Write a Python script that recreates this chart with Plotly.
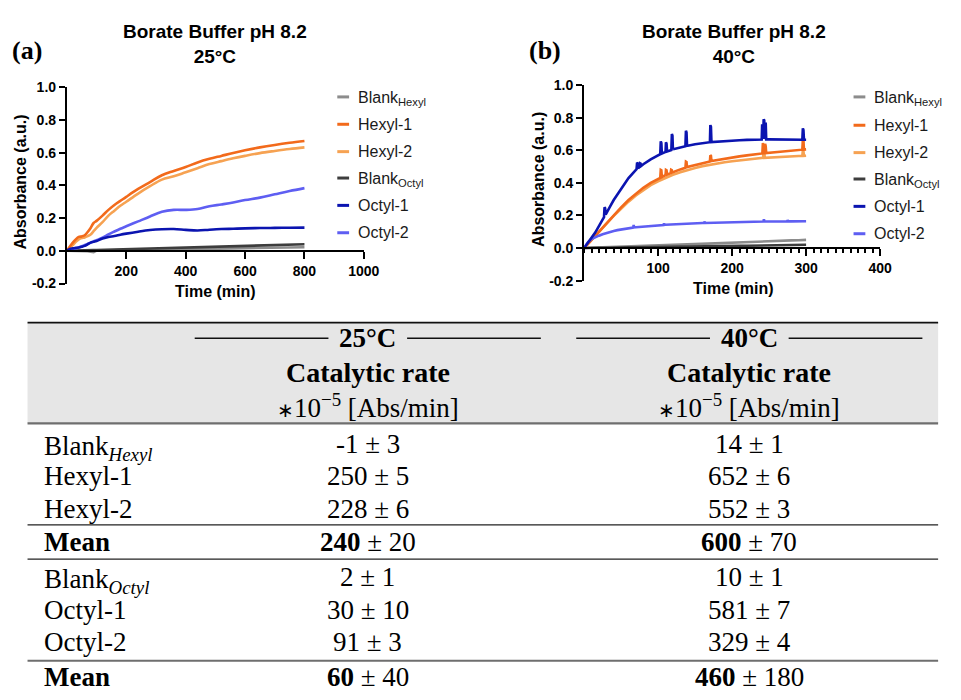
import plotly.graph_objects as go

W, H = 961, 700
SANS = "Liberation Sans, Arial, sans-serif"
SERIF = "Liberation Serif, Times New Roman, serif"


def px(x):
    return x / W


def py(y):
    return 1 - y / H


# ---------------- series styling ----------------
SERIES = ["Blank<sub>Hexyl</sub>", "Hexyl-1", "Hexyl-2",
          "Blank<sub>Octyl</sub>", "Octyl-1", "Octyl-2"]
COLORS = ["#8c8c8c", "#f26a1b", "#f6a252", "#3d3d3d", "#0b14b0", "#5e5ef2"]

# ---------------- 25 °C kinetics (absorbance vs time, min) ----------------
T25 = [0, 10, 20, 30, 40, 50, 60, 70, 80, 90, 100, 120, 140, 160, 180, 200,
       240, 280, 320, 360, 400, 440, 480, 520, 560, 600, 650, 700, 750, 800]
BLANK_HEX_25 = [0, 0, 0.001, 0.001, 0.001, 0, 0, -0.002, -0.006, -0.008, 0.001,
                0.002, 0.003, 0.004, 0.004, 0.005, 0.006, 0.007, 0.008, 0.009,
                0.011, 0.012, 0.013, 0.014, 0.015, 0.016, 0.018, 0.019, 0.02, 0.022]
HEX1_25 = [0, 0.027, 0.05, 0.07, 0.085, 0.088, 0.095, 0.115, 0.14, 0.17, 0.183,
           0.215, 0.25, 0.28, 0.305, 0.33, 0.378, 0.42, 0.462, 0.488, 0.512,
           0.54, 0.562, 0.58, 0.598, 0.614, 0.632, 0.647, 0.66, 0.671]
HEX2_25 = [0, 0.018, 0.035, 0.055, 0.07, 0.078, 0.082, 0.09, 0.1, 0.12, 0.14,
           0.175, 0.215, 0.245, 0.275, 0.30, 0.35, 0.395, 0.435, 0.455, 0.48,
           0.505, 0.53, 0.548, 0.565, 0.58, 0.597, 0.61, 0.622, 0.632]
BLANK_OCT_25 = [0, 0.001, 0.001, 0.002, 0.002, 0.003, 0.003, 0.004, 0.004, 0.005,
                0.005, 0.006, 0.007, 0.008, 0.009, 0.01, 0.012, 0.015, 0.017,
                0.019, 0.021, 0.023, 0.025, 0.027, 0.029, 0.031, 0.033, 0.035,
                0.038, 0.04]
OCT1_25 = [0, 0.012, 0.015, 0.018, 0.02, 0.025, 0.03, 0.04, 0.05, 0.055, 0.06,
           0.075, 0.085, 0.09, 0.098, 0.105, 0.117, 0.127, 0.132, 0.133, 0.128,
           0.124, 0.129, 0.133, 0.135, 0.137, 0.139, 0.14, 0.141, 0.142]
OCT2_25 = [0, 0.005, 0.01, 0.015, 0.02, 0.028, 0.035, 0.042, 0.05, 0.058, 0.065,
           0.08, 0.1, 0.118, 0.135, 0.15, 0.18, 0.21, 0.238, 0.25, 0.25, 0.255,
           0.272, 0.283, 0.295, 0.31, 0.325, 0.345, 0.365, 0.383]

# ---------------- 40 °C kinetics ----------------
T40 = [0, 5, 10, 15, 20, 25, 30, 35, 40, 45, 50, 60, 70, 80, 90, 100, 110, 120,
       130, 140, 150, 160, 170, 180, 190, 200, 210, 220, 230, 240, 250, 260,
       270, 280, 290, 300]
BLANK_HEX_40 = [0, 0.002, 0.003, 0.004, 0.005, 0.005, 0.006, 0.006, 0.007, 0.007,
                0.008, 0.01, 0.011, 0.013, 0.015, 0.016, 0.018, 0.02, 0.021,
                0.023, 0.025, 0.027, 0.028, 0.03, 0.032, 0.033, 0.035, 0.037,
                0.038, 0.04, 0.042, 0.043, 0.045, 0.047, 0.048, 0.05]
HEX1_40 = [0, 0.025, 0.05, 0.078, 0.105, 0.13, 0.155, 0.18, 0.205, 0.228, 0.25,
           0.295, 0.335, 0.37, 0.4, 0.425, 0.447, 0.466, 0.483, 0.498, 0.511,
           0.522, 0.532, 0.541, 0.549, 0.556, 0.563, 0.569, 0.575, 0.58, 0.585,
           0.589, 0.594, 0.598, 0.602, 0.606]
HEX2_40 = [0, 0.025, 0.05, 0.077, 0.103, 0.127, 0.15, 0.175, 0.198, 0.22, 0.242,
           0.285, 0.323, 0.357, 0.386, 0.41, 0.432, 0.45, 0.466, 0.48, 0.492,
           0.503, 0.512, 0.52, 0.527, 0.533, 0.539, 0.544, 0.549, 0.553, 0.556,
           0.559, 0.561, 0.563, 0.565, 0.567]
BLANK_OCT_40 = [0, 0.001, 0.001, 0.001, 0.002, 0.002, 0.002, 0.002, 0.003, 0.003,
                0.003, 0.004, 0.004, 0.005, 0.005, 0.006, 0.007, 0.007, 0.008,
                0.009, 0.01, 0.01, 0.011, 0.012, 0.012, 0.013, 0.014, 0.014,
                0.015, 0.016, 0.016, 0.017, 0.018, 0.018, 0.019, 0.02]
OCT1_40 = [0, 0.03, 0.062, 0.095, 0.135, 0.175, 0.215, 0.255, 0.295, 0.33, 0.365,
           0.43, 0.48, 0.515, 0.545, 0.57, 0.59, 0.605, 0.618, 0.628, 0.637,
           0.644, 0.65, 0.654, 0.658, 0.66, 0.662, 0.664, 0.665, 0.666, 0.667,
           0.667, 0.667, 0.666, 0.666, 0.665]
OCT2_40 = [0, 0.035, 0.055, 0.067, 0.076, 0.085, 0.093, 0.1, 0.105, 0.11, 0.114,
           0.122, 0.128, 0.132, 0.137, 0.14, 0.143, 0.146, 0.148, 0.15, 0.152,
           0.154, 0.155, 0.157, 0.158, 0.159, 0.16, 0.161, 0.162, 0.163, 0.163,
           0.164, 0.164, 0.164, 0.165, 0.165]

# short reading artefacts (spikes) recorded in the 40 °C runs
HEX1_40_SPK_T = [102.9, 103.6, 104.4, 105.1, 109.9, 110.6, 111.4, 112.1,
                 116.9, 117.6, 118.4, 119.1, 136.9, 137.6, 138.4, 139.1,
                 169.9, 170.6, 171.4, 172.1, 240.9, 241.6, 242.4, 243.1,
                 243.9, 244.6, 245.4, 246.1, 294.9, 295.6, 296.4, 297.1]
HEX1_40_SPK_V = [0.431, 0.48, 0.478, 0.436, 0.448, 0.48, 0.478, 0.451,
                 0.46, 0.48, 0.478, 0.464, 0.493, 0.53, 0.528, 0.497,
                 0.532, 0.57, 0.566, 0.534, 0.581, 0.645, 0.63, 0.582,
                 0.582, 0.64, 0.625, 0.583, 0.604, 0.665, 0.66, 0.605]
HEX2_40_SPK_T = [241.9, 242.6, 243.4, 244.1, 294.9, 295.6, 296.4, 297.1]
HEX2_40_SPK_V = [0.554, 0.6, 0.595, 0.554, 0.566, 0.6, 0.595, 0.566]
OCT1_40_SPK_T = [26.9, 27.6, 28.4, 29.1, 70.9, 71.6, 72.4, 73.1,
                 74.9, 75.6, 76.4, 77.1, 102.9, 103.6, 104.4, 105.1,
                 109.9, 110.6, 111.4, 112.1, 117.9, 118.6, 119.4, 120.1,
                 136.9, 137.6, 138.4, 139.1, 169.9, 170.6, 171.4, 172.1,
                 239.9, 240.6, 241.4, 242.1, 242.6, 243.4, 244.1, 244.6,
                 245.4, 246.1, 294.9, 295.6, 296.4, 297.1]
OCT1_40_SPK_V = [0.19, 0.25, 0.245, 0.206, 0.484, 0.525, 0.52, 0.49,
                 0.498, 0.52, 0.518, 0.504, 0.576, 0.655, 0.645, 0.58,
                 0.59, 0.65, 0.64, 0.593, 0.602, 0.70, 0.69, 0.606,
                 0.625, 0.72, 0.71, 0.628, 0.65, 0.755, 0.745, 0.651,
                 0.666, 0.76, 0.74, 0.67, 0.79, 0.785, 0.672, 0.675,
                 0.77, 0.667, 0.665, 0.735, 0.725, 0.665]
OCT2_40_SPK_T = [66.4, 67, 67.6, 107.4, 108, 108.6, 162.4, 163, 163.6,
                 242.4, 243, 243.6, 274.4, 275, 275.6]
OCT2_40_SPK_V = [0.126, 0.142, 0.127, 0.142, 0.152, 0.143, 0.154, 0.163, 0.154,
                 0.163, 0.177, 0.163, 0.164, 0.172, 0.164]

# ---------------- catalytic rates (×10^-5 Abs/min) ----------------
ROW_LABELS = ["Blank<sub><i>Hexyl</i></sub>", "Hexyl-1", "Hexyl-2", "<b>Mean</b>",
              "Blank<sub><i>Octyl</i></sub>", "Octyl-1", "Octyl-2", "<b>Mean</b>"]
RATE_25 = [-1, 250, 228, 240, 2, 30, 91, 60]
ERR_25 = [3, 5, 6, 20, 1, 10, 3, 40]
RATE_40 = [14, 652, 552, 600, 10, 581, 329, 460]
ERR_40 = [1, 6, 3, 70, 1, 7, 4, 180]
IS_MEAN = [False, False, False, True, False, False, False, True]


def merged(t, v, st=(), sv=()):
    pts = sorted(zip(list(t) + list(st), list(v) + list(sv)))
    return [p[0] for p in pts], [p[1] for p in pts]


fig = go.Figure()


def add_line(t, v, color, xa, ya, shape="linear", width=2.6):
    fig.add_trace(go.Scatter(
        x=t, y=v, mode="lines", xaxis=xa, yaxis=ya, showlegend=False,
        hoverinfo="skip", line=dict(color=color, width=width, shape=shape)))


# drawing order: blanks first, then the lighter replicate under the darker one
panel_a = [(BLANK_HEX_25, 0), (BLANK_OCT_25, 3), (HEX2_25, 2), (HEX1_25, 1),
           (OCT2_25, 5), (OCT1_25, 4)]
for vals, k in panel_a:
    add_line(T25, vals, COLORS[k], "x", "y",
             shape="linear" if k in (0, 3) else "spline")

panel_b = [
    (merged(T40, BLANK_HEX_40), 0),
    (merged(T40, BLANK_OCT_40), 3),
    (merged(T40, HEX2_40, HEX2_40_SPK_T, HEX2_40_SPK_V), 2),
    (merged(T40, HEX1_40, HEX1_40_SPK_T, HEX1_40_SPK_V), 1),
    (merged(T40, OCT2_40, OCT2_40_SPK_T, OCT2_40_SPK_V), 5),
    (merged(T40, OCT1_40, OCT1_40_SPK_T, OCT1_40_SPK_V), 4),
]
for (tt, vv), k in panel_b:
    add_line(tt, vv, COLORS[k], "x2", "y2")

# ---------------- axes ----------------
tickfont = dict(family=SANS, size=14, color="black", weight="bold")
YTICKS = [-0.2, 0.0, 0.2, 0.4, 0.6, 0.8, 1.0]
YTEXT = ["-0.2", "0.0", "0.2", "0.4", "0.6", "0.8", "1.0"]

common_x = dict(showline=True, linewidth=2, linecolor="black", ticks="outside",
                ticklen=7, tickwidth=2, tickcolor="black", showgrid=False,
                zeroline=False, tickfont=tickfont, anchor="free", fixedrange=True)
common_y = dict(showline=True, linewidth=2, linecolor="black", ticks="outside",
                ticklen=6, tickwidth=2, tickcolor="black", showgrid=False,
                zeroline=False, tickfont=tickfont, range=[-0.2, 1.0],
                tickvals=YTICKS, ticktext=YTEXT, fixedrange=True)

# y = 0 sits one sixth of the way up each panel
a_bot, a_top = 282, 81
b_bot, b_top = 279, 79
a_zero = a_bot - (a_bot - a_top) / 6
b_zero = b_bot - (b_bot - b_top) / 6

fig.update_layout(
    xaxis=dict(common_x, domain=[px(68), px(370)], range=[0, 1000],
               tickvals=[200, 400, 600, 800, 1000], position=py(a_zero)),
    yaxis=dict(common_y, domain=[py(a_bot), py(a_top)], anchor="x"),
    xaxis2=dict(common_x, domain=[px(594), px(895)], range=[0, 400],
                tickvals=[100, 200, 300, 400], position=py(b_zero),
                minor=dict(ticks="outside", dtick=10, ticklen=4, tickwidth=1.5,
                           tickcolor="black")),
    yaxis2=dict(common_y, domain=[py(b_bot), py(b_top)], anchor="x2"),
)

annotations = []
shapes = []


def text(x, y, s, size, family=SANS, xanchor="center", yanchor="middle",
         angle=0, color="black"):
    annotations.append(dict(
        x=px(x), y=py(y), xref="paper", yref="paper", text=s, showarrow=False,
        xanchor=xanchor, yanchor=yanchor, textangle=angle,
        font=dict(family=family, size=size, color=color)))


def hline(x0, x1, y, color="black", width=1.5):
    shapes.append(dict(type="line", xref="paper", yref="paper",
                       x0=px(x0), x1=px(x1), y0=py(y), y1=py(y),
                       line=dict(color=color, width=width)))


# panel titles, tags and axis titles
for cx, tag_x, tag, temp in [(219, 27, "a", "25°C"), (746, 554, "b", "40°C")]:
    text(cx, 37, f"<b>Borate Buffer pH 8.2</b><br><b>{temp}</b>", 19)
    text(tag_x, 44, f"<b>({tag})</b>", 26, family=SERIF)

text(21, 178, "<b>Absorbance (a.u.)</b>", 16, angle=-90)
text(547, 175, "<b>Absorbance (a.u.)</b>", 16, angle=-90)
text(219, 290, "<b>Time (min)</b>", 16)
text(746, 287, "<b>Time (min)</b>", 16)

# legends
LEG_A_Y = [91, 119, 147, 174, 202, 230]
LEG_B_Y = [91, 120, 148, 175, 203, 231]
for (x0, rows) in [(343, LEG_A_Y), (868, LEG_B_Y)]:
    for name, col, y in zip(SERIES, COLORS, rows):
        shapes.append(dict(type="line", xref="paper", yref="paper",
                           x0=px(x0), x1=px(x0 + 12), y0=py(y), y1=py(y),
                           line=dict(color=col, width=3)))
        text(x0 + 19, y + (2 if "sub" in name else 0), name, 16,
             xanchor="left", color="#1a1a1a")

# ---------------- table ----------------
TBL_L, TBL_R = 28, 954
COL1, COL2 = 374, 762
FS = 27
shapes.append(dict(type="rect", xref="paper", yref="paper", x0=px(TBL_L),
                   x1=px(TBL_R), y0=py(425), y1=py(322), fillcolor="#e6e6e6",
                   line=dict(width=0), layer="below"))
hline(TBL_L, TBL_R, 322, "#111111", 1.6)
hline(TBL_L, TBL_R, 425, "#6e6e6e", 2.2)
hline(TBL_L, TBL_R, 529, "#222222", 1.3)
hline(TBL_L, TBL_R, 564, "#222222", 1.3)
hline(TBL_L, TBL_R, 668, "#6e6e6e", 2.2)

for c, temp in [(COL1, "25°C"), (COL2, "40°C")]:
    hline(c - 176, c - 40, 338, "#111111", 1.5)
    hline(c + 40, c + 176, 338, "#111111", 1.5)
    text(c, 338, f"<b>{temp}</b>", FS, family=SERIF)
    text(c, 373, "<b>Catalytic rate</b>", 28, family=SERIF)
    text(c, 407, "<span style='font-size:20px'>∗</span>10<sup>−5</sup> [Abs/min]",
         FS, family=SERIF)

ROW_Y = [446, 479, 513, 546, 582, 616, 649, 685]
for lab, y, r1, e1, r2, e2, bold in zip(ROW_LABELS, ROW_Y, RATE_25, ERR_25,
                                       RATE_40, ERR_40, IS_MEAN):
    dy = 4 if "sub" in lab else 0
    text(43, y + dy, lab, FS, family=SERIF, xanchor="left")
    for c, r, e in [(COL1, r1, e1), (COL2, r2, e2)]:
        val = f"<b>{r}</b>" if bold else f"{r}"
        text(c, y, f"{val} ± {e}", FS, family=SERIF)

fig.update_layout(
    width=W, height=H, margin=dict(l=0, r=0, t=0, b=0),
    paper_bgcolor="white", plot_bgcolor="white",
    annotations=annotations, shapes=shapes, showlegend=False,
)

fig.write_html("out.html")
